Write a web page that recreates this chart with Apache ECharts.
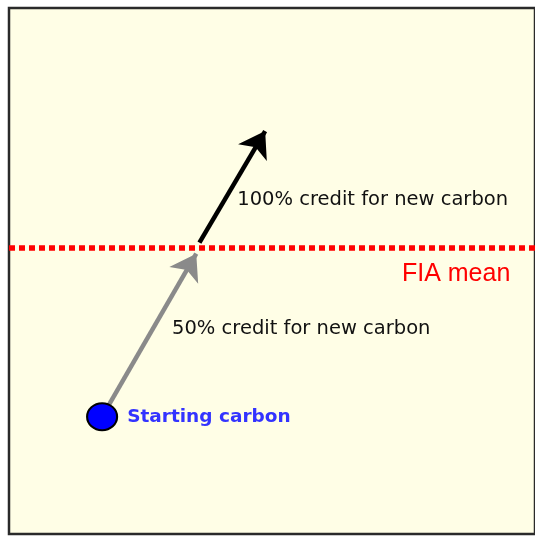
<!DOCTYPE html>
<html>
<head>
<meta charset="utf-8">
<script src="https://cdn.jsdelivr.net/npm/echarts@6/dist/echarts.min.js"></script>
<style>
html,body{margin:0;padding:0;background:#ffffff;}
#chart{width:535px;height:536px;}
</style>
</head>
<body>
<div id="chart"></div>
<script>
// Data (abstract carbon-space units, axes hidden)
const startingCarbon = [17.7, 22.3];
const fiaMean = 54.5;
const halfCreditArrow = [[17.7, 22.3], [35.6, 53.3]];
const fullCreditArrow = [[36.2, 55.4], [48.7, 76.6]];
const labelTexts = {
  start: 'Starting carbon',
  half: '50% credit for new carbon',
  full: '100% credit for new carbon',
  mean: 'FIA mean'
};
const labelAnchors = {
  half: [31.0, 39.0],
  full: [43.4, 63.6],
  mean: [74.7, 49.5]
};

const chart = echarts.init(document.getElementById('chart'));
const textSeries = (name, pos, color, size, weight, font) => ({
  type: 'scatter',
  data: [pos],
  symbolSize: 1,
  itemStyle: {color: 'rgba(0,0,0,0)', opacity: 1},
  silent: true,
  z: 5,
  label: {
    show: true,
    position: 'inside',
    align: 'left',
    verticalAlign: 'middle',
    formatter: name,
    color: color,
    fontSize: size,
    fontWeight: weight,
    fontFamily: font
  }
});
chart.setOption({
  animation: false,
  grid: {
    left: 9, top: 8, right: -4, bottom: 2,
    show: true,
    backgroundColor: '#fffee6',
    borderColor: '#2a2a2a',
    borderWidth: 2.5
  },
  xAxis: {type: 'value', min: 0, max: 100, show: false},
  yAxis: {type: 'value', min: 0, max: 100, show: false},
  series: [
    {
      type: 'line',
      data: [],
      markLine: {
        silent: true,
        symbol: 'none',
        label: {show: false},
        lineStyle: {color: '#ff0000', width: 5.5, type: [6, 4]},
        data: [{yAxis: fiaMean}]
      }
    },
    {
      type: 'lines',
      coordinateSystem: 'cartesian2d',
      polyline: false,
      symbol: ['none', 'arrow'],
      symbolSize: 25,
      lineStyle: {color: '#8a8a8a', width: 4.5, opacity: 1, curveness: 0},
      data: [{coords: halfCreditArrow}],
      z: 3
    },
    {
      type: 'lines',
      coordinateSystem: 'cartesian2d',
      polyline: false,
      symbol: ['none', 'arrow'],
      symbolSize: 25,
      lineStyle: {color: '#000000', width: 4.5, opacity: 1, curveness: 0},
      data: [{coords: fullCreditArrow}],
      z: 3
    },
    {
      type: 'scatter',
      data: [startingCarbon],
      symbol: 'circle',
      symbolSize: [30, 27],
      itemStyle: {color: '#0000ff', borderColor: '#000000', borderWidth: 2, opacity: 1},
      z: 10,
      label: {
        show: true,
        position: 'right',
        distance: 9,
        formatter: labelTexts.start,
        color: '#3333ff',
        fontSize: 18.5,
        fontWeight: 'bold',
        fontFamily: 'DejaVu Sans'
      }
    },
    textSeries(labelTexts.half, labelAnchors.half, '#111111', 19.5, 'normal', 'DejaVu Sans'),
    textSeries(labelTexts.full, labelAnchors.full, '#111111', 19.5, 'normal', 'DejaVu Sans'),
    textSeries(labelTexts.mean, labelAnchors.mean, '#ff0000', 25, 'normal', 'Liberation Sans')
  ]
});
</script>
</body>
</html>
